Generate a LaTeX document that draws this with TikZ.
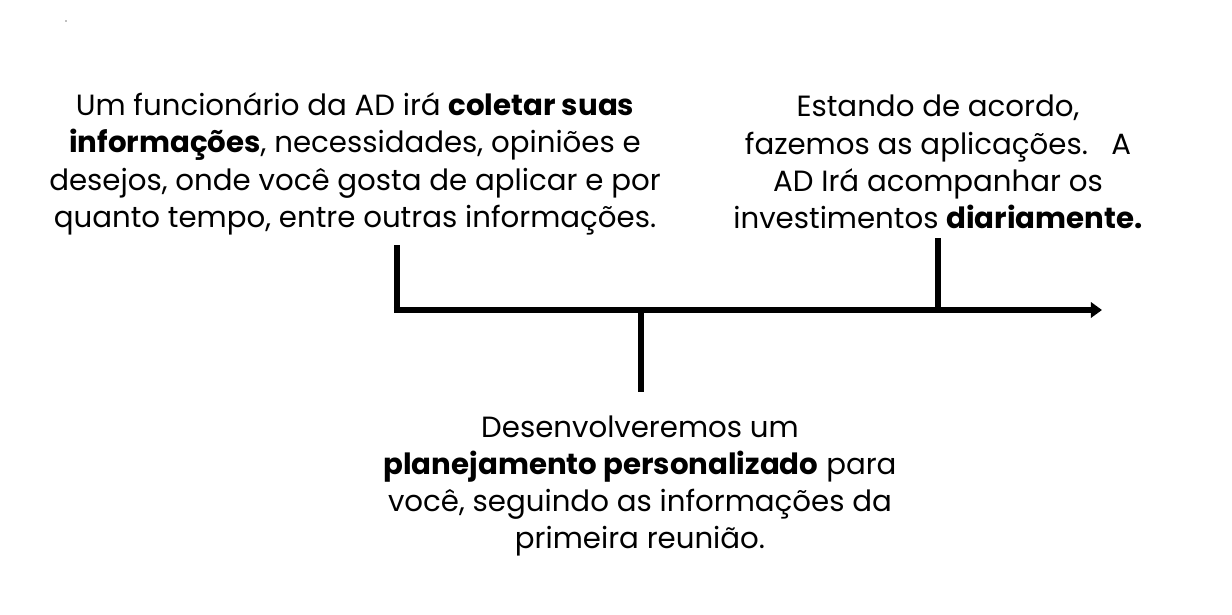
\documentclass[tikz,border=0pt]{standalone}
\usepackage{fontspec}
\setmainfont{Poppins}
\usetikzlibrary{arrows.meta}
\tikzset{
  axis/.style={line width=4.3pt},
  tick/.style={line width=4.3pt},
  note/.style={align=center, font=\fontsize{20.8}{26.5}\selectfont, inner sep=0pt},
}
\begin{document}
\begin{tikzpicture}[x=0.025cm, y=-0.025cm]
  \useasboundingbox (0,0) rectangle (1232,615);
  % linha do tempo
  \coordinate (start) at (397,310);
  \coordinate (stop) at (1102,310);
  \coordinate (t1) at (397,245);
  \coordinate (t2top) at (641,310);
  \coordinate (t2) at (641,392);
  \coordinate (t3top) at (938,310);
  \coordinate (t3) at (938,238);
  \draw [axis,-{Triangle[length=8pt,width=11pt]}] ([xshift=-2.15pt]start) -- (stop);
  \draw [tick] (start) -- (t1);
  \draw [tick] (t2top) -- (t2);
  \draw [tick] (t3top) -- (t3);
  % textos
  \node [note] (coleta) at (355,164) {Um funcionário da AD irá \textbf{coletar suas}\\
    \textbf{informações}, necessidades, opiniões e\\
    desejos, onde você gosta de aplicar e por\\
    quanto tempo, entre outras informações.};
  \node [note] (aplica) at (938,162) {Estando de acordo,\\
    fazemos as aplicações.\ \ \ A\\
    AD Irá acompanhar os\\
    investimentos \textbf{diariamente.}};
  \node [note] (plano) at (640,486) {Desenvolveremos um\\
    \textbf{planejamento personalizado} para\\
    você, seguindo as informações da\\
    primeira reunião.};
  \fill [gray] (66,21) circle (0.6pt);
\end{tikzpicture}
\end{document}
